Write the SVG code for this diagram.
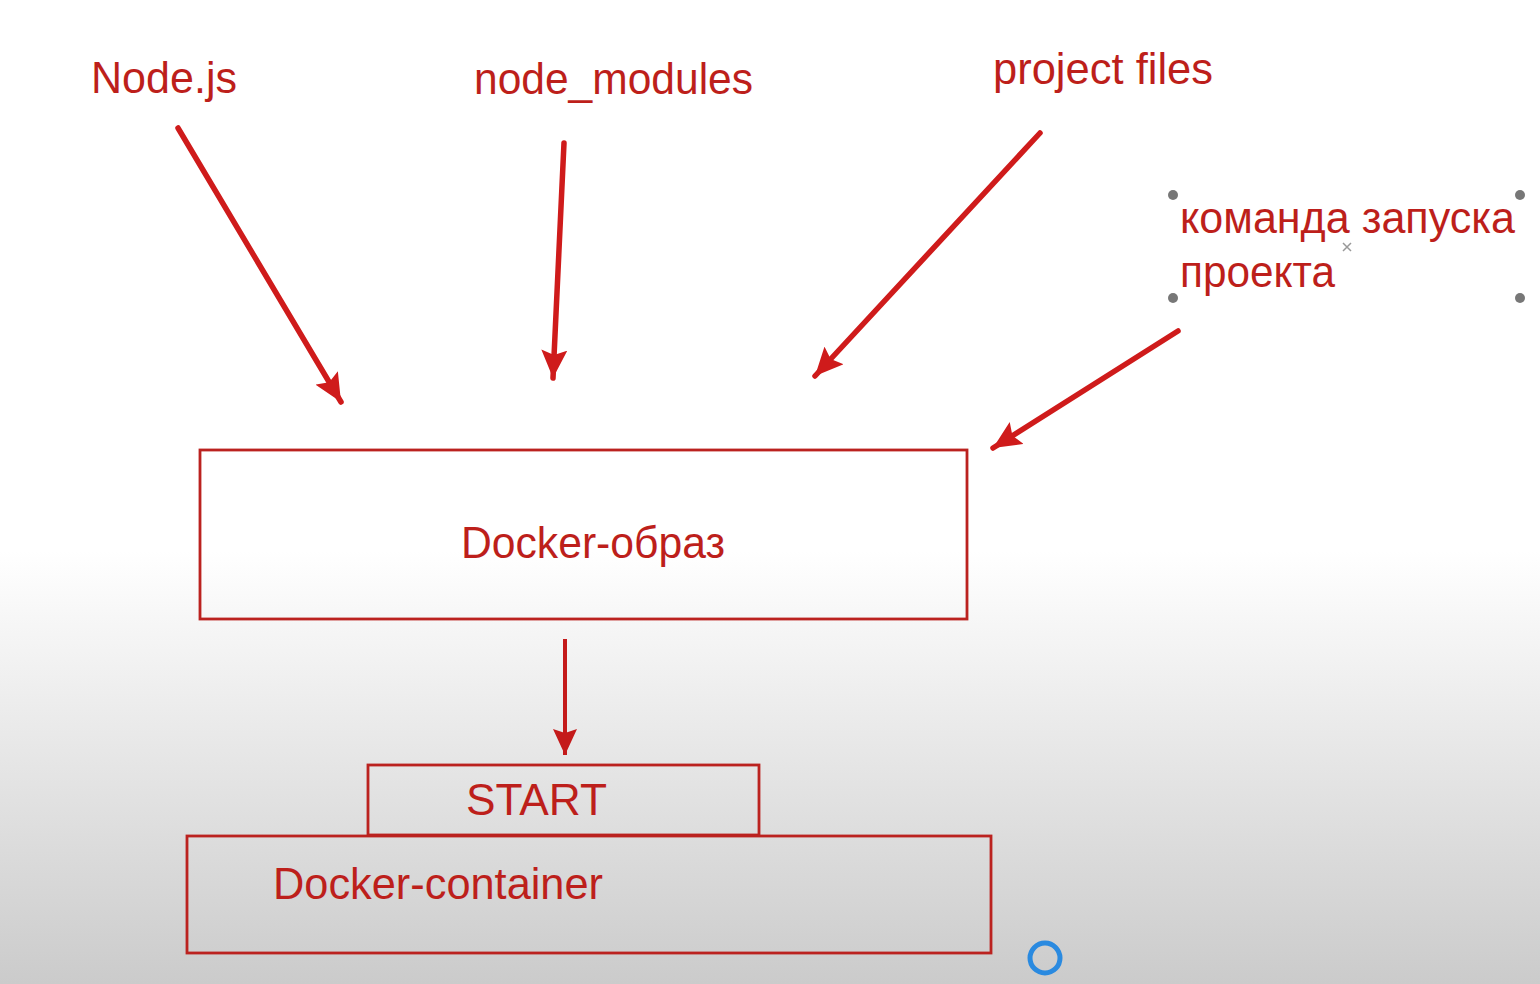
<svg xmlns="http://www.w3.org/2000/svg" width="1540" height="984" viewBox="0 0 1540 984">
<defs>
<linearGradient id="bg" x1="0" y1="0" x2="0" y2="984" gradientUnits="userSpaceOnUse">
<stop offset="0" stop-color="#ffffff"/>
<stop offset="0.56" stop-color="#ffffff"/>
<stop offset="1" stop-color="#cbcbcb"/>
</linearGradient>
<marker id="ah" markerUnits="userSpaceOnUse" viewBox="0 0 28 26" refX="28" refY="13" markerWidth="28" markerHeight="26" orient="auto">
<path d="M0,0 L28,13 L0,26 L5,13 Z" fill="#cf1b1b"/>
</marker>
<marker id="ah2" markerUnits="userSpaceOnUse" viewBox="0 0 26 24" refX="26" refY="12" markerWidth="26" markerHeight="24" orient="auto">
<path d="M0,0 L26,12 L0,24 L4,12 Z" fill="#c41a1a"/>
</marker>
</defs>
<style>
.t{font-family:"Liberation Sans",Arial,sans-serif;font-size:44px;fill:#bd1f1b}
.box{fill:none;stroke:#bb221f;stroke-width:2.8}
.arr{stroke:#cf1b1b;stroke-width:5.5;fill:none;stroke-linecap:round;marker-end:url(#ah)}
.arr2{stroke:#c41a1a;stroke-width:4;fill:none;marker-end:url(#ah2)}
.h{fill:#777777}
</style>
<rect x="0" y="0" width="1540" height="984" fill="url(#bg)"/>

<g id="labels">
<g id="node-js"><text class="t" x="91" y="93" textLength="146" lengthAdjust="spacingAndGlyphs">Node.js</text></g>
<g id="node-modules"><text class="t" x="474" y="94" textLength="279" lengthAdjust="spacingAndGlyphs">node_modules</text></g>
<g id="project-files"><text class="t" x="993" y="84" textLength="220" lengthAdjust="spacingAndGlyphs">project files</text></g>
<g id="run-command">
<text class="t" x="1180" y="233" font-size="42" textLength="335" lengthAdjust="spacingAndGlyphs">команда запуска</text>
<text class="t" x="1180" y="287" font-size="42" textLength="155" lengthAdjust="spacingAndGlyphs">проекта</text>
<circle class="h" cx="1173" cy="195" r="5"/>
<circle class="h" cx="1520" cy="195" r="5"/>
<circle class="h" cx="1173" cy="298" r="5"/>
<circle class="h" cx="1520" cy="298" r="5"/>
<path d="M1343,243 L1351,251 M1351,243 L1343,251" stroke="#999" stroke-width="1.5"/>
</g>
</g>

<g id="docker-image">
<rect class="box" x="200" y="450" width="767" height="169"/>
<text class="t" x="461" y="558" textLength="264" lengthAdjust="spacingAndGlyphs">Docker-образ</text>
</g>

<g id="start">
<rect class="box" x="368" y="765" width="391" height="70"/>
<text class="t" x="466" y="815" textLength="141" lengthAdjust="spacingAndGlyphs">START</text>
</g>

<g id="docker-container">
<rect class="box" x="187" y="836" width="804" height="117"/>
<text class="t" x="273" y="899" textLength="330" lengthAdjust="spacingAndGlyphs">Docker-container</text>
</g>

<g id="connectors">
<line class="arr" x1="178" y1="128" x2="341" y2="402"/>
<line class="arr" x1="564" y1="143" x2="553" y2="378"/>
<line class="arr" x1="1040" y1="133" x2="815" y2="376"/>
<line class="arr" x1="1178" y1="331" x2="993" y2="448"/>
<line class="arr2" x1="565" y1="639" x2="565" y2="755"/>
</g>

<circle cx="1045" cy="958" r="15" fill="none" stroke="#2a8ae0" stroke-width="5"/>
</svg>
